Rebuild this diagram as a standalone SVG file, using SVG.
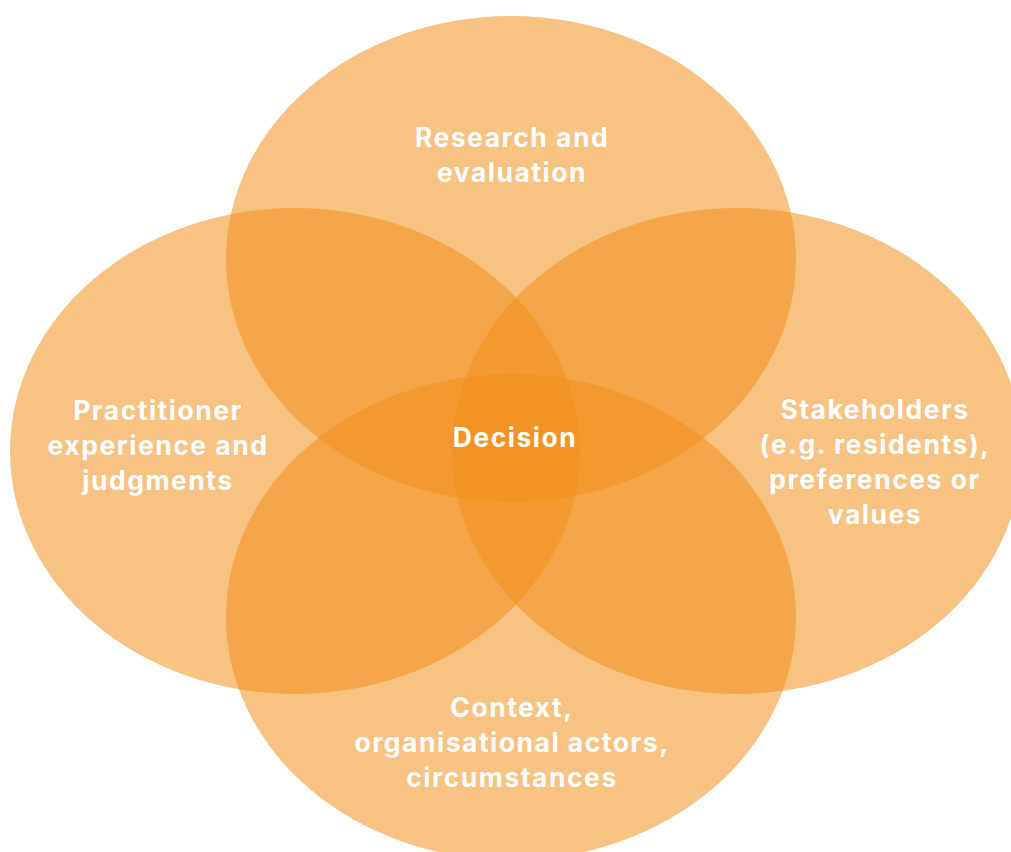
<svg xmlns="http://www.w3.org/2000/svg" width="1011" height="852" viewBox="0 0 1011 852">
<style>
.c{fill:#F28E19;fill-opacity:0.54}
.t{font-family:Inter,"Open Sans","Liberation Sans",sans-serif;font-weight:700;font-size:26.5px;letter-spacing:1.5px;fill:#fff;text-anchor:middle}
</style>
<rect width="1011" height="852" fill="#fff"/>
<g id="research"><ellipse class="c" cx="511" cy="259" rx="285" ry="243"/></g>
<g id="practitioner"><ellipse class="c" cx="295" cy="451" rx="285" ry="243"/></g>
<g id="stakeholders"><ellipse class="c" cx="737" cy="451" rx="285" ry="243"/></g>
<g id="context"><ellipse class="c" cx="511" cy="617" rx="285" ry="243"/></g>
<g id="labels">
<text class="t" x="512" y="147">Research and</text>
<text class="t" x="512" y="182">evaluation</text>
<text class="t" x="515" y="447">Decision</text>
<text class="t" x="158" y="420">Practitioner</text>
<text class="t" x="158" y="455">experience and</text>
<text class="t" x="158" y="490">judgments</text>
<text class="t" x="875" y="419">Stakeholders</text>
<text class="t" x="875" y="454">(e.g. residents),</text>
<text class="t" x="875" y="489">preferences or</text>
<text class="t" x="875" y="524">values</text>
<text class="t" x="512" y="717">Context,</text>
<text class="t" x="512" y="752">organisational actors,</text>
<text class="t" x="512" y="787">circumstances</text>
</g>
</svg>
